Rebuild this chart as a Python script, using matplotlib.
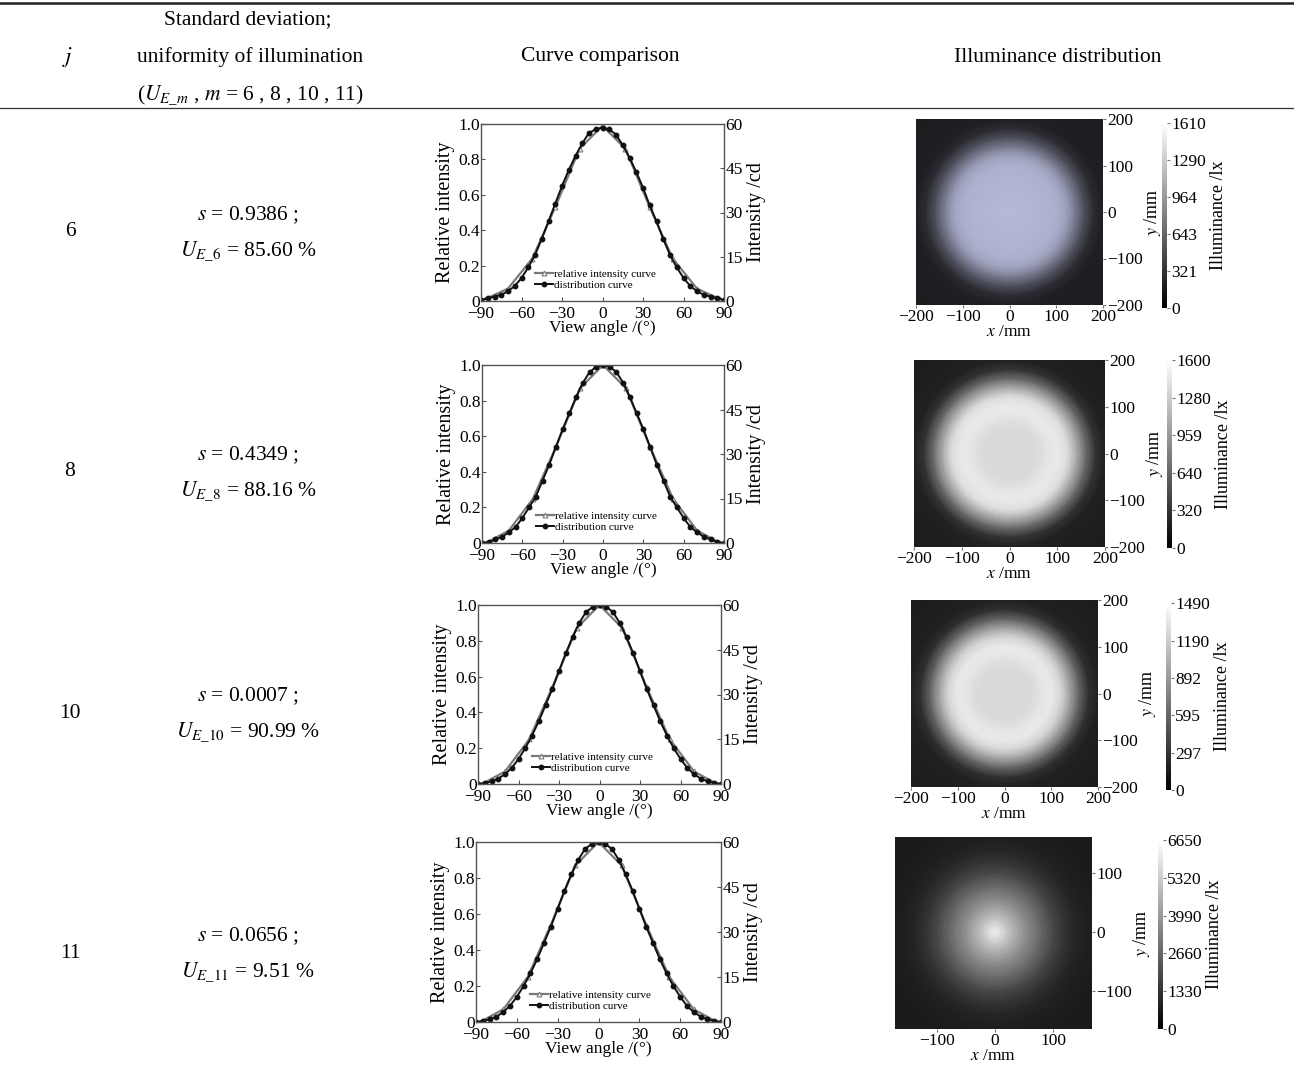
import numpy as np
import matplotlib.pyplot as plt
from matplotlib.lines import Line2D
from matplotlib.colors import LinearSegmentedColormap, Normalize
from matplotlib.cm import ScalarMappable
from matplotlib.ticker import FuncFormatter

plt.rcParams['font.family'] = ['Liberation Serif', 'DejaVu Serif']
plt.rcParams['mathtext.fontset'] = 'stix'

W, H = 1294, 1073

# ---- table text ----
rows_j = ['6', '8', '10', '11']
s_vals = ['0.9386', '0.4349', '0.0007', '0.0656']
ue_vals = ['85.60', '88.16', '90.99', '9.51']

# ---- curve comparison data (relative intensity) ----
angles = [-90, -85, -80, -75, -70, -65, -60, -55, -50, -45, -40, -35, -30, -25, -20, -15, -10, -5, 0,
          5, 10, 15, 20, 25, 30, 35, 40, 45, 50, 55, 60, 65, 70, 75, 80, 85, 90]
dist_6 = [0.005, 0.015, 0.025, 0.035, 0.055, 0.085, 0.13, 0.19, 0.26, 0.35, 0.45, 0.55, 0.65, 0.74, 0.82, 0.89,
          0.95, 0.97, 0.98, 0.97, 0.94, 0.88, 0.81, 0.73, 0.64, 0.54, 0.45, 0.35, 0.26, 0.19, 0.13, 0.085,
          0.055, 0.035, 0.025, 0.015, 0.005]
dist_8 = [0.0, 0.005, 0.02, 0.035, 0.06, 0.09, 0.14, 0.20, 0.26, 0.35, 0.44, 0.54, 0.64, 0.73, 0.82, 0.90,
          0.96, 0.99, 1.0, 0.99, 0.96, 0.90, 0.82, 0.73, 0.64, 0.54, 0.44, 0.35, 0.26, 0.20, 0.14, 0.09,
          0.06, 0.035, 0.02, 0.005, 0.0]
dist_10 = [0.0, 0.005, 0.015, 0.03, 0.055, 0.09, 0.14, 0.20, 0.27, 0.35, 0.44, 0.53, 0.63, 0.73, 0.82, 0.90,
           0.96, 0.99, 1.0, 0.99, 0.96, 0.90, 0.82, 0.73, 0.63, 0.53, 0.44, 0.35, 0.27, 0.20, 0.14, 0.09,
           0.055, 0.03, 0.015, 0.005, 0.0]
dist_11 = [0.0, 0.005, 0.015, 0.03, 0.055, 0.09, 0.14, 0.20, 0.27, 0.35, 0.44, 0.53, 0.63, 0.73, 0.82, 0.90,
           0.96, 0.99, 1.0, 0.99, 0.96, 0.90, 0.82, 0.73, 0.63, 0.53, 0.44, 0.35, 0.27, 0.20, 0.14, 0.09,
           0.055, 0.03, 0.015, 0.005, 0.0]
rel_angles = [-87, -70, -52, -35, -17, 0, 17, 35, 52, 70, 87]
rel_6 = [0.01, 0.07, 0.24, 0.53, 0.86, 0.99, 0.86, 0.53, 0.24, 0.07, 0.01]
rel_8 = [0.0, 0.07, 0.25, 0.54, 0.87, 1.0, 0.87, 0.54, 0.25, 0.07, 0.0]
rel_10 = [0.0, 0.07, 0.25, 0.54, 0.87, 1.0, 0.87, 0.54, 0.25, 0.07, 0.0]
rel_11 = [0.0, 0.07, 0.25, 0.54, 0.87, 1.0, 0.87, 0.54, 0.25, 0.07, 0.0]

# ---- illuminance maps: radial brightness profiles (fraction of colour bar max) ----
radii = [0, 10, 20, 30, 40, 50, 60, 80, 100, 120, 140, 160, 180, 200, 300]
prof_6 = [1.0, 1.0, 0.99, 0.99, 0.98, 0.98, 0.97, 0.96, 0.94, 0.85, 0.60, 0.32, 0.10, 0.03, 0.0]
prof_8 = [0.88, 0.88, 0.88, 0.88, 0.88, 0.88, 0.89, 0.93, 0.95, 0.90, 0.66, 0.36, 0.11, 0.03, 0.0]
prof_10 = [0.88, 0.88, 0.88, 0.88, 0.88, 0.88, 0.89, 0.93, 0.95, 0.86, 0.62, 0.33, 0.10, 0.03, 0.0]
prof_11 = [1.0, 0.90, 0.80, 0.71, 0.63, 0.55, 0.48, 0.34, 0.21, 0.11, 0.05, 0.02, 0.005, 0.0, 0.0]
cbar_6 = [0, 321, 643, 964, 1290, 1610]
cbar_8 = [0, 320, 640, 959, 1280, 1600]
cbar_10 = [0, 297, 595, 892, 1190, 1490]
cbar_11 = [0, 1330, 2660, 3990, 5320, 6650]

dists = [dist_6, dist_8, dist_10, dist_11]
rels = [rel_6, rel_8, rel_10, rel_11]
profs = [prof_6, prof_8, prof_10, prof_11]
cbars = [cbar_6, cbar_8, cbar_10, cbar_11]

# pixel boxes (left, top, right, bottom)
curve_boxes = [(481, 124, 724, 301), (482, 365, 724, 543), (478, 605, 721, 784), (476, 842, 721, 1022)]
map_boxes = [(916, 119, 1103, 305), (914, 360, 1105, 547), (911, 600, 1098, 787), (895, 837, 1092, 1029)]
cb_boxes = [(1162, 123, 1167, 308), (1167, 360, 1172, 548), (1166, 603, 1171, 790), (1158, 840, 1163, 1029)]
row_y = [232, 472, 713, 953]


def box(b):
    l, t, r, bt = b
    return [l / W, 1 - bt / H, (r - l) / W, (bt - t) / H]


def fy(y):
    return 1 - y / H


fig = plt.figure(figsize=(W / 100, H / 100), dpi=100)

# table rules
fig.add_artist(Line2D([0, 1], [fy(3), fy(3)], color='#222222', lw=1.8))
fig.add_artist(Line2D([0, 1], [fy(108), fy(108)], color='#333333', lw=0.9))

hs = 15.5
fig.text(68 / W, fy(57), '$j$', ha='center', va='center', fontsize=hs + 1)
fig.text(248 / W, fy(20), 'Standard deviation;', ha='center', va='center', fontsize=hs)
fig.text(250 / W, fy(57), 'uniformity of illumination', ha='center', va='center', fontsize=hs)
fig.text(250 / W, fy(95), r'($U_{E\_m}$ , $m$ = 6 , 8 , 10 , 11)', ha='center', va='center', fontsize=hs)
fig.text(600 / W, fy(57), 'Curve comparison', ha='center', va='center', fontsize=hs)
fig.text(1058 / W, fy(57), 'Illuminance distribution', ha='center', va='center', fontsize=hs)

lav = LinearSegmentedColormap.from_list('lav', ['#1c1c1f', '#b6bad9'])
grey = LinearSegmentedColormap.from_list('grey', ['#1b1b1b', '#f4f4f4'])
theta = np.linspace(0, 2 * np.pi, 181)

tfs = 12.5  # tick label size
for i in range(4):
    y0 = row_y[i]
    fig.text(70 / W, fy(y0), rows_j[i], ha='center', va='center', fontsize=hs)
    fig.text(248 / W, fy(y0 - 17), r'$s$ = ' + s_vals[i] + ' ;', ha='center', va='center', fontsize=hs)
    fig.text(248 / W, fy(y0 + 19), r'$U_{E\_' + rows_j[i] + '}$ = ' + ue_vals[i] + ' %',
             ha='center', va='center', fontsize=hs)

    # curve comparison
    ax = fig.add_axes(box(curve_boxes[i]))
    ax.plot(rel_angles, rels[i], color='#7a7a7a', lw=1.6, marker='^', ms=3.5,
            mfc='white', mec='#7a7a7a', mew=0.8, label='relative intensity curve')
    ax.plot(angles, dists[i], color='#111111', lw=1.4, marker='o', ms=3.2,
            label='distribution curve')
    ax.set_xlim(-90, 90)
    ax.set_ylim(0, 1.0)
    ax.set_xticks([-90, -60, -30, 0, 30, 60, 90])
    ax.set_yticks([0, 0.2, 0.4, 0.6, 0.8, 1.0])
    ax.yaxis.set_major_formatter(FuncFormatter(lambda v, p: '0' if v == 0 else f'{v:.1f}'))
    ax.tick_params(direction='in', length=3, labelsize=tfs, pad=1, color='#555555')
    ax.tick_params(axis='x', pad=3.5)
    ax.set_xlabel('View angle /(°)', fontsize=12.5, labelpad=-1)
    ax.set_ylabel('Relative intensity', fontsize=14.5, labelpad=2)
    for sp in ax.spines.values():
        sp.set_color('#555555')
        sp.set_linewidth(1.0)
    ax.legend(loc='lower left', bbox_to_anchor=(0.19, 0.02), frameon=False, fontsize=8,
              handlelength=1.6, handletextpad=0.1, labelspacing=0.1, borderpad=0.2)
    ax2 = ax.twinx()
    ax2.set_ylim(0, 60)
    ax2.set_yticks([0, 15, 30, 45, 60])
    ax2.tick_params(direction='in', length=3, labelsize=tfs, pad=1, color='#555555')
    ax2.set_ylabel('Intensity /cd', fontsize=14.5, labelpad=3)
    for sp in ax2.spines.values():
        sp.set_visible(False)

    # illuminance distribution
    axm = fig.add_axes(box(map_boxes[i]))
    axm.set_facecolor('#1b1b1b')
    R, T = np.meshgrid(radii, theta)
    C = np.tile(profs[i], (len(theta), 1))
    axm.pcolormesh(R * np.cos(T), R * np.sin(T), C, shading='gouraud',
                   cmap=lav if i == 0 else grey, vmin=0, vmax=1)
    if i < 3:
        axm.set_xlim(-200, 200)
        axm.set_ylim(-200, 200)
        axm.set_xticks([-200, -100, 0, 100, 200])
        axm.set_yticks([-200, -100, 0, 100, 200])
    else:
        axm.set_xlim(-172, 167)
        axm.set_ylim(-164, 161)
        axm.set_xticks([-100, 0, 100])
        axm.set_yticks([-100, 0, 100])
    axm.yaxis.tick_right()
    axm.yaxis.set_label_position('right')
    axm.tick_params(direction='out', length=2, labelsize=tfs, pad=1, color='#777777')
    axm.set_xlabel('$x$ /mm', fontsize=12.5, labelpad=-1)
    axm.set_ylabel('$y$ /mm', fontsize=13, labelpad=-1)
    for sp in axm.spines.values():
        sp.set_visible(False)

    # colour bar
    cax = fig.add_axes(box(cb_boxes[i]))
    tk = cbars[i]
    sm = ScalarMappable(norm=Normalize(tk[0], tk[-1]), cmap='gray')
    cb = fig.colorbar(sm, cax=cax, ticks=tk)
    cb.outline.set_visible(False)
    cb.ax.tick_params(length=2, labelsize=tfs, pad=1, color='#777777')
    cb.ax.yaxis.set_major_formatter(FuncFormatter(lambda v, p: f'{v:.0f}'))
    cb.set_label('Illuminance /lx', fontsize=13, labelpad=3)

fig.savefig('out.png', dpi=100)
